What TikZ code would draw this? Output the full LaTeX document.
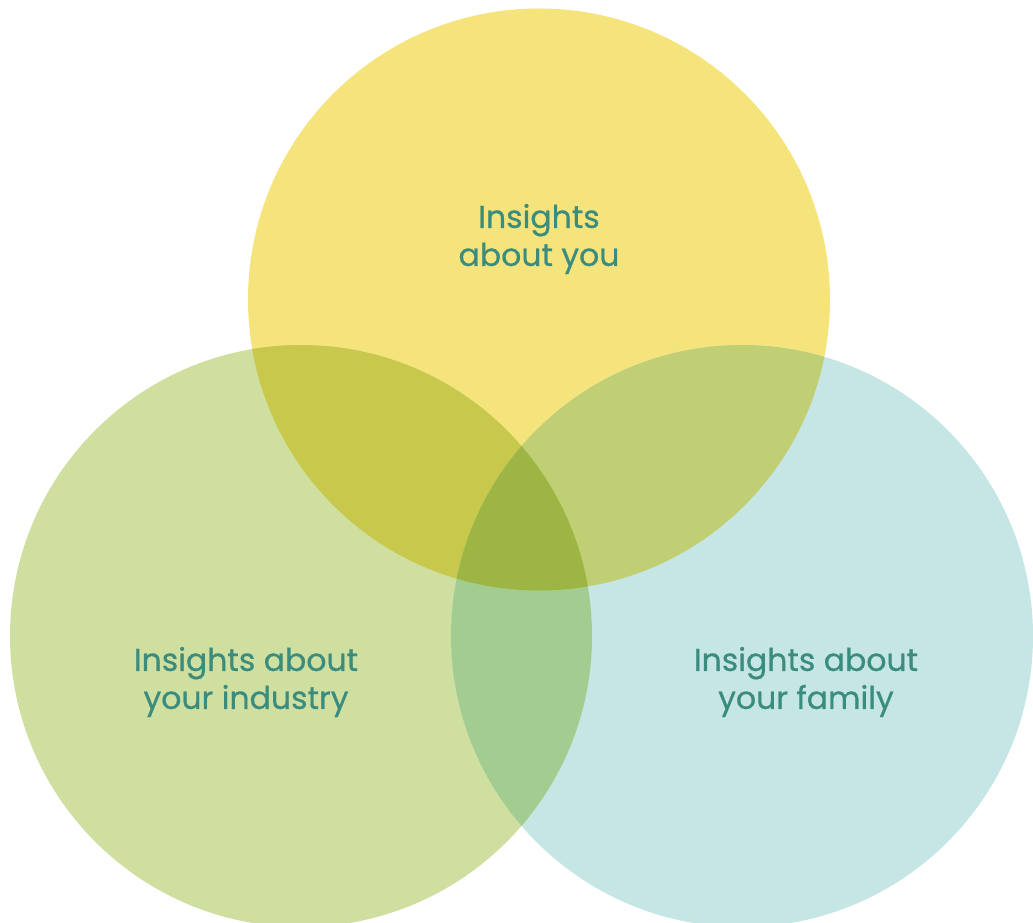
\documentclass[tikz,border=0pt]{standalone}
\usepackage{fontspec}
\setmainfont{Poppins}[FakeBold=0.6]
\definecolor{cy}{HTML}{F5E47B}
\definecolor{cg}{HTML}{CFDF9F}
\definecolor{ct}{HTML}{C6E6E5}
\definecolor{cyg}{HTML}{C8C94C}
\definecolor{cyt}{HTML}{C0CE74}
\definecolor{cgt}{HTML}{A3CD90}
\definecolor{cygt}{HTML}{9DB543}
\definecolor{txt}{HTML}{3A8C7E}
\begin{document}
\begin{tikzpicture}[x=1pt,y=-1pt,
  lbl/.style={text=txt,align=center,font=\fontsize{31.5}{38}\selectfont}]
\useasboundingbox (0,0) rectangle (1033,923);
\def\R{291}
\coordinate (T) at (539,299.5);
\coordinate (L) at (301,636);
\coordinate (Rt) at (742,636);
\fill[cy] (T) circle (\R);
\fill[cg] (L) circle (\R);
\fill[ct] (Rt) circle (\R);
\begin{scope}
  \clip (T) circle (\R);
  \fill[cyg] (L) circle (\R);
  \fill[cyt] (Rt) circle (\R);
\end{scope}
\begin{scope}
  \clip (L) circle (\R);
  \fill[cgt] (Rt) circle (\R);
  \clip (Rt) circle (\R);
  \fill[cygt] (T) circle (\R);
\end{scope}
\node[lbl] (a) at (539,239) {Insights\\about you};
\node[lbl] (b) at (246,682) {Insights about\\your industry};
\node[lbl] (c) at (806,682) {Insights about\\your family};
\end{tikzpicture}
\end{document}
